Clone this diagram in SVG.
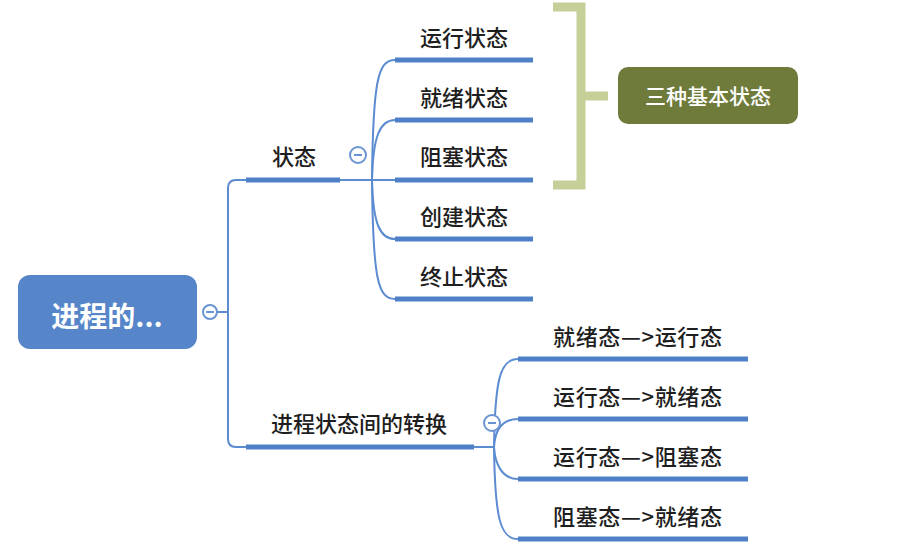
<svg xmlns="http://www.w3.org/2000/svg" width="905" height="547" viewBox="0 0 905 547">
<style>
.t{font-family:"Noto Sans CJK SC","Liberation Sans",sans-serif;font-size:22px;font-weight:500;fill:#1e1e1e}
.bar{stroke:#4f80c7;stroke-width:5;fill:none}
.con{stroke:#5b8bd0;stroke-width:2;fill:none}
.col circle{fill:#fff;stroke:#6a94d2;stroke-width:2}
.col line{stroke:#6a94d2;stroke-width:2}
</style>
<rect width="905" height="547" fill="#fff"/>
<g id="connectors">
<path class="con" d="M217,312 H228 M246,180 H236 Q228,180 228,188 V439 Q228,447 236,447 H246"/>
<path class="con" d="M340,180 H395"/>
<path class="con" d="M372,180 C373,80 378,60 395,60"/>
<path class="con" d="M372,180 C373,136 380,120 395,120"/>
<path class="con" d="M372,180 C373,224 380,239 395,239"/>
<path class="con" d="M372,180 C373,280 378,299 395,299"/>
<path class="con" d="M474,447 H495"/>
<path class="con" d="M494,447 C495,380 500,359 518,359"/>
<path class="con" d="M494,447 C495,430 502,419 518,419"/>
<path class="con" d="M494,447 C495,464 502,479 518,479"/>
<path class="con" d="M494,447 C495,518 500,539 518,539"/>
<path d="M553,7 H581 V185 H553 M581,96 H608" fill="none" stroke="#c5cf98" stroke-width="9"/>
</g>
<g id="root">
<rect x="18" y="275" width="179" height="74" rx="12" fill="#5686c9"/>
<text x="107" y="327" text-anchor="middle" font-family="Noto Sans CJK SC, Liberation Sans, sans-serif" font-size="28" font-weight="bold" fill="#fff">进程的...</text>
<g class="col"><circle cx="210" cy="312" r="7"/><line x1="206" y1="312" x2="214" y2="312"/></g>
</g>
<g id="state">
<path class="bar" d="M246,180 H340"/>
<text class="t" x="272" y="165">状态</text>
<g class="col"><circle cx="358" cy="155" r="8"/><line x1="354" y1="155" x2="362" y2="155"/></g>
</g>
<g id="running"><path class="bar" d="M395,60 H533"/><text class="t" x="420" y="46">运行状态</text></g>
<g id="ready"><path class="bar" d="M395,120 H533"/><text class="t" x="420" y="106">就绪状态</text></g>
<g id="blocked"><path class="bar" d="M395,180 H533"/><text class="t" x="420" y="165">阻塞状态</text></g>
<g id="created"><path class="bar" d="M395,239 H533"/><text class="t" x="420" y="225">创建状态</text></g>
<g id="terminated"><path class="bar" d="M395,299 H533"/><text class="t" x="420" y="285">终止状态</text></g>
<g id="basic">
<rect x="618" y="67" width="180" height="57" rx="10" fill="#6e7b3b"/>
<text x="708" y="104" text-anchor="middle" font-family="Noto Sans CJK SC, Liberation Sans, sans-serif" font-size="21" font-weight="500" fill="#fff">三种基本状态</text>
</g>
<g id="transition">
<path class="bar" d="M246,447 H474"/>
<text class="t" x="271" y="432">进程状态间的转换</text>
<g class="col"><circle cx="492" cy="423" r="8"/><line x1="488" y1="423" x2="496" y2="423"/></g>
</g>
<g id="t1"><path class="bar" d="M518,359 H748"/><text class="t" x="553" y="345" textLength="169">就绪态—&gt;运行态</text></g>
<g id="t2"><path class="bar" d="M518,419 H748"/><text class="t" x="553" y="405" textLength="169">运行态—&gt;就绪态</text></g>
<g id="t3"><path class="bar" d="M518,479 H748"/><text class="t" x="553" y="465" textLength="169">运行态—&gt;阻塞态</text></g>
<g id="t4"><path class="bar" d="M518,539 H748"/><text class="t" x="553" y="525" textLength="169">阻塞态—&gt;就绪态</text></g>
</svg>
